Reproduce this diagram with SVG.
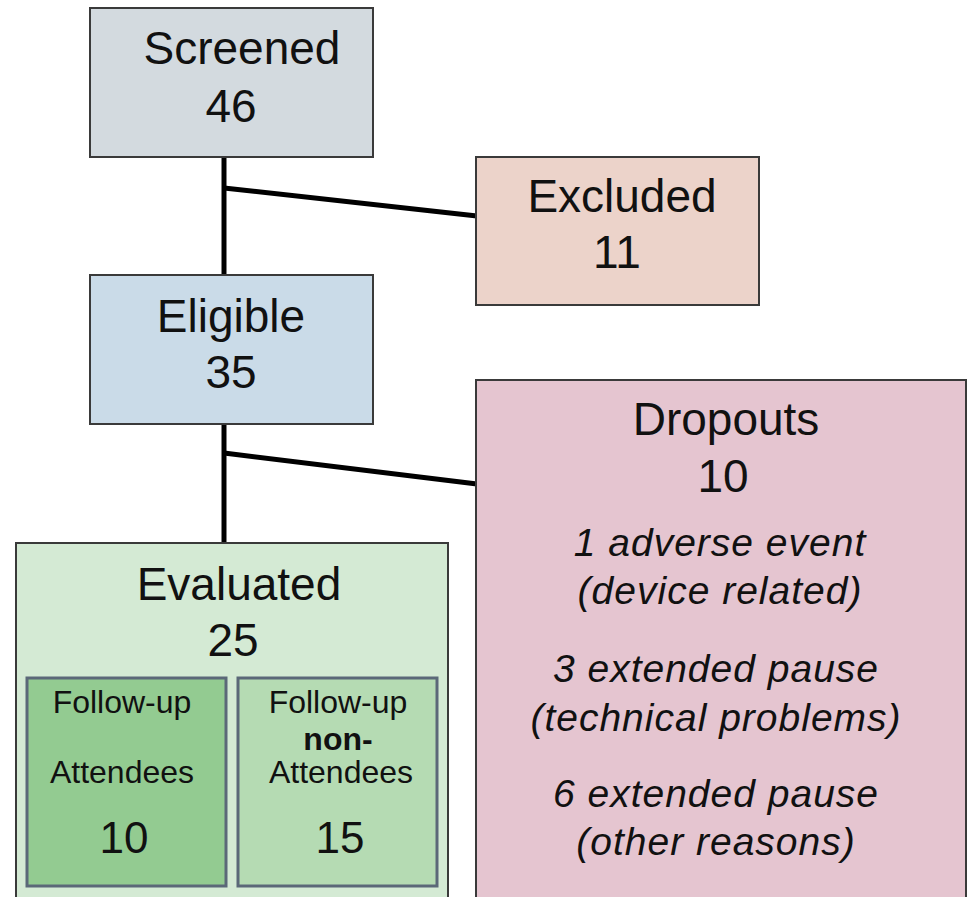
<svg xmlns="http://www.w3.org/2000/svg" width="968" height="897" viewBox="0 0 968 897">
<style>
.box{stroke:#3a3a3a;stroke-width:2}
.inner{stroke:#5b6878;stroke-width:3}
.t{font-family:"Liberation Sans",Arial,sans-serif;fill:#111;text-anchor:middle}
.big{font-size:46px}
.it{font-size:39px;font-style:italic;letter-spacing:1px}
.sm{font-size:32px}
.num{font-size:44px}
.conn{stroke:#000;stroke-width:5;fill:none}
</style>
<rect width="968" height="897" fill="#fff"/>
<g id="connectors">
<line class="conn" x1="224" y1="157" x2="224" y2="276"/>
<line class="conn" x1="224" y1="188" x2="477" y2="216"/>
<line class="conn" x1="224" y1="424" x2="224" y2="544"/>
<line class="conn" x1="224" y1="453" x2="477" y2="484"/>
</g>
<g id="screened">
<rect class="box" x="90" y="8" width="283" height="149" fill="#d3dadf"/>
<text class="t big" x="242" y="64">Screened</text>
<text class="t big" x="231" y="122">46</text>
</g>
<g id="excluded">
<rect class="box" x="476" y="157" width="283" height="148" fill="#ecd3ca"/>
<text class="t big" x="622" y="212">Excluded</text>
<text class="t big" x="617" y="268">11</text>
</g>
<g id="eligible">
<rect class="box" x="90" y="275" width="283" height="149" fill="#cadbe8"/>
<text class="t big" x="231" y="332">Eligible</text>
<text class="t big" x="231" y="388">35</text>
</g>
<g id="dropouts">
<rect class="box" x="476" y="380" width="490" height="530" fill="#e5c5d0"/>
<text class="t big" x="726" y="435">Dropouts</text>
<text class="t big" x="723" y="492">10</text>
<text class="t it" x="720" y="556">1 adverse event</text>
<text class="t it" x="720" y="604">(device related)</text>
<text class="t it" x="716" y="682">3 extended pause</text>
<text class="t it" x="716" y="731">(technical problems)</text>
<text class="t it" x="716" y="807">6 extended pause</text>
<text class="t it" x="716" y="855">(other reasons)</text>
</g>
<g id="evaluated">
<rect class="box" x="16" y="543" width="432" height="370" fill="#d4ead4"/>
<text class="t big" x="239" y="600">Evaluated</text>
<text class="t big" x="233" y="656">25</text>
</g>
<g id="attendees">
<rect class="inner" x="27" y="678" width="199" height="208" fill="#93cb91"/>
<text class="t sm" x="122" y="713">Follow-up</text>
<text class="t sm" x="122" y="783">Attendees</text>
<text class="t num" x="124" y="853">10</text>
</g>
<g id="non-attendees">
<rect class="inner" x="238" y="678" width="199" height="208" fill="#b5dbb3"/>
<text class="t sm" x="338" y="713">Follow-up</text>
<text class="t sm" x="338" y="750" font-weight="bold">non-</text>
<text class="t sm" x="341" y="783">Attendees</text>
<text class="t num" x="340" y="853">15</text>
</g>
</svg>
